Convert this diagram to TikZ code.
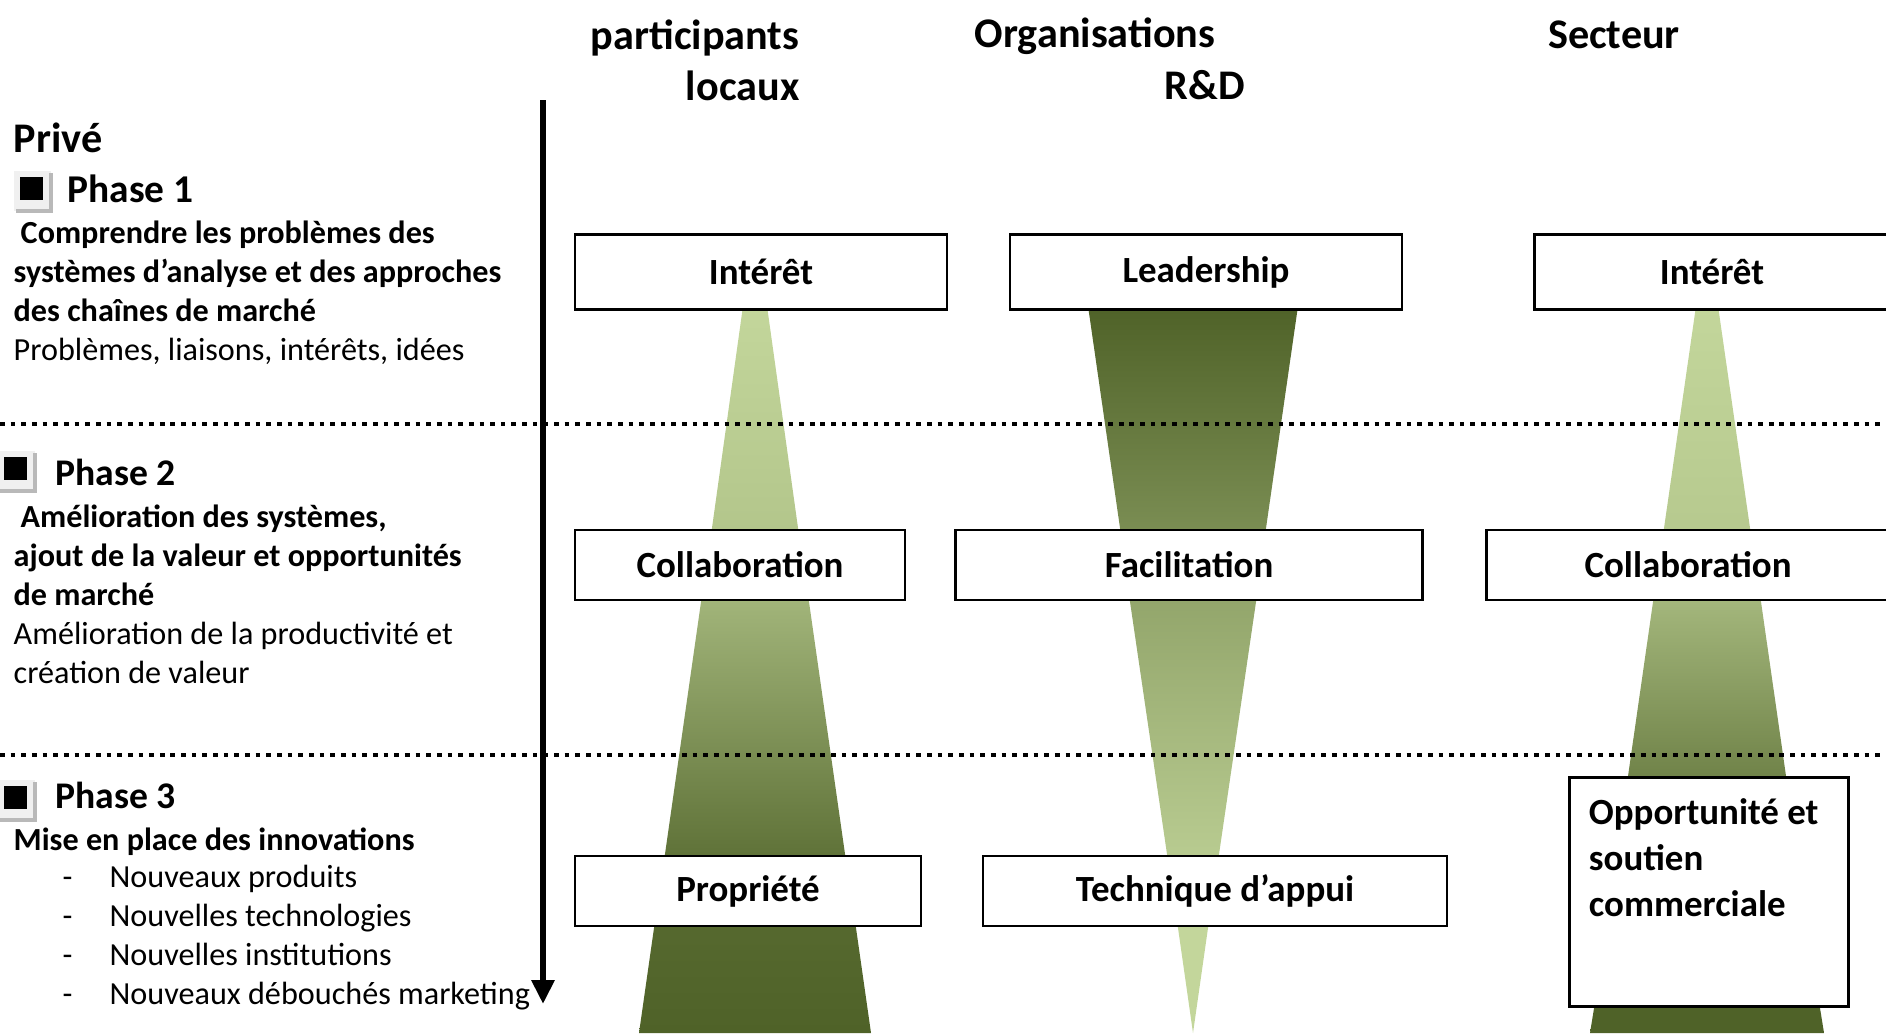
\documentclass[tikz,border=0pt]{standalone}
\usepackage{fontspec}
\setmainfont{Carlito}
\usetikzlibrary{arrows.meta,positioning}

\definecolor{pale}{HTML}{C3D69B}
\definecolor{olive}{HTML}{4F6228}

\tikzset{
  box/.style={draw=black, line width=0.7pt, fill=white, inner sep=0pt,
    minimum height=0.7cm, font=\fontsize{10.5}{12.8}\selectfont\bfseries},
  txt/.style={inner sep=0pt, anchor=west, align=left,
    font=\fontsize{9.15}{11.1}\selectfont},
  head/.style={inner sep=0pt, font=\fontsize{12}{14.6}\selectfont\bfseries},
  phase/.style={inner sep=0pt, anchor=west, font=\fontsize{10.7}{13}\selectfont\bfseries},
  sepline/.style={line width=1.33pt, dash pattern=on 1.33pt off 1.7pt},
}

\begin{document}
\begin{tikzpicture}[x=0.01cm, y=-0.01cm]
  \useasboundingbox (0,0) rectangle (1886,1033);
  \clip (0,0) rectangle (1886,1033);

  % green funnels, one piece between two boxes
  \foreach \xc/\ya/\wa/\yb/\wb/\ca/\cb in {
      755/306/12/535/44/pale/pale!86!olive,
      755/595/53/861/91/pale!72!olive/pale!13!olive,
      755/921/100/1033/116/pale!6!olive/olive,
      1193/306/105/535/72/olive/pale!38!olive,
      1193/595/64/861/25/pale!58!olive/pale!91!olive,
      1193/921/16/1033/0/pale/pale,
      1707/306/11/535/44/pale/pale!89!olive,
      1707/595/53/783/80/pale!74!olive/pale!27!olive,
      1707/1002/112/1033/117/olive/olive}
    \shade[top color=\ca, bottom color=\cb]
      (\xc-\wa,\ya) -- (\xc+\wa,\ya) -- (\xc+\wb,\yb) -- (\xc-\wb,\yb) -- cycle;

  % phase separators
  \foreach \y in {424,755}
    \draw[sepline] (0,\y) -- (1886,\y);

  % column heads
  \node[head, align=right, anchor=east] (part) at (800,60) {participants\\locaux};
  \node[head] (org) at (1095,36) {Organisations};
  \node[head] (rd) at (1205,85) {R\&D};
  \node[head] (sect) at (1614,35) {Secteur};

  % boxes
  \node[box, minimum width=3.72cm, minimum height=0.75cm] (int1) at (761,272) {Intérêt};
  \node[box, minimum width=3.92cm, minimum height=0.75cm] (lead) at (1206,272) {Leadership};
  \node[box, minimum width=3.55cm, minimum height=0.75cm] (int3) at (1712,272) {Intérêt};
  \node[box, minimum width=3.30cm] (col1) at (740,565) {Collaboration};
  \node[box, minimum width=4.67cm] (fac) at (1189,565) {Facilitation};
  \node[box, minimum width=4.03cm] (col3) at (1688,565) {Collaboration};
  \node[box, minimum width=3.46cm] (prop) at (748,891) {Propriété};
  \node[box, minimum width=4.64cm] (tech) at (1215,891) {Technique d’appui};
  \node[box, minimum width=2.79cm, minimum height=2.29cm] (opp) at (1709,892) {};
  \node[txt, anchor=north west, xshift=0.2cm, yshift=-0.22cm,
    font=\fontsize{10.5}{13}\selectfont\bfseries] (opptxt) at (opp.north west)
    {Opportunité et\\soutien\\commerciale};

  % left side
  \node[head, anchor=west] (prive) at (13,138) {Privé};
  \foreach \ox/\oy in {14/171, -2/451, -2/780}{
    \fill[gray!12] (\ox,\oy) rectangle (\ox+37,\oy+40);
    \draw[gray!55, line width=1.2pt] (\ox+37,\oy+2) -- (\ox+37,\oy+40) -- (\ox+2,\oy+40);
    \fill[black] (\ox+6,\oy+6) rectangle (\ox+29,\oy+29);
  }
  \node[phase, font=\fontsize{11.2}{13}\selectfont\bfseries] (ph1) at (67,189) {Phase 1};
  \node[phase] (ph2) at (55,472) {Phase 2};
  \node[phase] (ph3) at (55,795) {Phase 3};

  \node[txt] (blk1) at (13,293) {\bfseries\hspace*{2pt}Comprendre les problèmes des\\
    \bfseries systèmes d’analyse et des approches\\
    \bfseries des chaînes de marché\\
    \mdseries Problèmes, liaisons, intérêts, idées};
  \node[txt] (blk2) at (13,594) {\bfseries\hspace*{2pt}Amélioration des systèmes,\\
    \bfseries ajout de la valeur et opportunités\\
    \bfseries de marché\\
    \mdseries Amélioration de la productivité et\\
    \mdseries création de valeur};
  \node[txt] (mise) at (13,842) {\bfseries Mise en place des innovations};
  \foreach \t [count=\i from 0] in {Nouveaux produits, Nouvelles technologies,
      Nouvelles institutions, Nouveaux débouchés marketing}{
    \node[txt, anchor=base west] (dash\i) at (62,887+39.3*\i) {-};
    \node[txt, anchor=base west] (item\i) at (109,887+39.3*\i) {\t};
  }

  % time arrow
  \coordinate (atop) at (543,100);
  \coordinate (abot) at (543,1004);
  \draw[line width=1.7pt, -{Triangle[length=0.24cm, width=0.22cm]}] (atop) -- (abot);
\end{tikzpicture}
\end{document}
